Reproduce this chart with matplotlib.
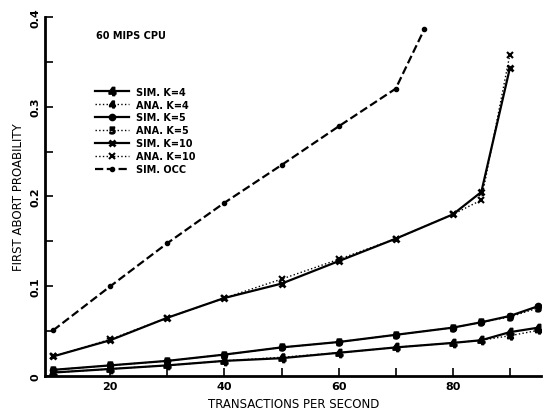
import matplotlib
matplotlib.use("Agg")
import matplotlib.pyplot as plt
from matplotlib.ticker import MultipleLocator

# transactions per second
x = [10, 20, 30, 40, 50, 60, 70, 80, 85, 90, 95]
x_k10 = [10, 20, 30, 40, 50, 60, 70, 80, 85, 90]
x_occ = [10, 20, 30, 40, 50, 60, 70, 75]

sim_k4 = [0.004, 0.008, 0.012, 0.017, 0.020, 0.026, 0.032, 0.037, 0.040, 0.049, 0.054]
ana_k4 = [0.004, 0.008, 0.012, 0.017, 0.021, 0.026, 0.032, 0.037, 0.040, 0.045, 0.051]
sim_k5 = [0.007, 0.012, 0.017, 0.024, 0.032, 0.038, 0.046, 0.054, 0.060, 0.067, 0.078]
ana_k5 = [0.007, 0.012, 0.017, 0.024, 0.032, 0.038, 0.046, 0.054, 0.060, 0.066, 0.076]
sim_k10 = [0.022, 0.040, 0.065, 0.087, 0.103, 0.128, 0.153, 0.180, 0.205, 0.343]
ana_k10 = [0.022, 0.041, 0.065, 0.087, 0.108, 0.130, 0.153, 0.180, 0.196, 0.358]
sim_occ = [0.051, 0.100, 0.148, 0.193, 0.235, 0.278, 0.320, 0.386]

plt.rcParams["font.family"] = "DejaVu Sans"
plt.rcParams["font.weight"] = "bold"

fig = plt.figure(figsize=(5.44, 4.14), dpi=100)
ax = fig.add_axes([0.083, 0.089, 0.912, 0.868])

ax.plot(x, sim_k4, "-", color="black", lw=1.6, marker="$4$", ms=6, label="SIM. K=4")
ax.plot(x, ana_k4, ":", color="black", lw=1.0, marker="$4$", ms=5, label="ANA. K=4")
ax.plot(x, sim_k5, "-", color="black", lw=1.6, marker="o", ms=4.5, label="SIM. K=5")
ax.plot(x, ana_k5, ":", color="black", lw=1.0, marker="$5$", ms=5, label="ANA. K=5")
ax.plot(x_k10, sim_k10, "-", color="black", lw=1.6, marker="x", ms=5, mew=2, label="SIM. K=10")
ax.plot(x_k10, ana_k10, ":", color="black", lw=1.0, marker="x", ms=5, mew=1.5, label="ANA. K=10")
ax.plot(x_occ, sim_occ, "--", color="black", lw=1.6, marker="o", ms=3, label="SIM. OCC")

ax.set_xlim(8.6, 95.5)
ax.set_ylim(0, 0.4)

ax.xaxis.set_minor_locator(MultipleLocator(10))
ax.yaxis.set_minor_locator(MultipleLocator(0.05))
ax.set_xticks([20, 40, 60, 80])
ax.set_xticklabels(["20", "40", "60", "80"])
ax.set_yticks([0, 0.1, 0.2, 0.3, 0.4])
ax.set_yticklabels(["0", "0.1", "0.2", "0.3", "0.4"], rotation=90, va="center")
ax.tick_params(which="both", direction="in", length=6, width=1.2, labelsize=8)

for s in ["top", "right"]:
    ax.spines[s].set_visible(False)
for s in ["left", "bottom"]:
    ax.spines[s].set_linewidth(2)

ax.set_xlabel("TRANSACTIONS PER SECOND", fontsize=8.5, fontweight="normal")
ax.set_ylabel("FIRST ABORT PROABILITY", fontsize=8.5, fontweight="normal")

ax.text(0.103, 0.94, "60 MIPS CPU", transform=ax.transAxes, fontsize=7, fontweight="bold")

ax.legend(loc="upper left", bbox_to_anchor=(0.082, 0.83), frameon=False,
          fontsize=7, handlelength=3.5, labelspacing=0.3, handletextpad=0.8)

fig.savefig("out.png", dpi=100)
